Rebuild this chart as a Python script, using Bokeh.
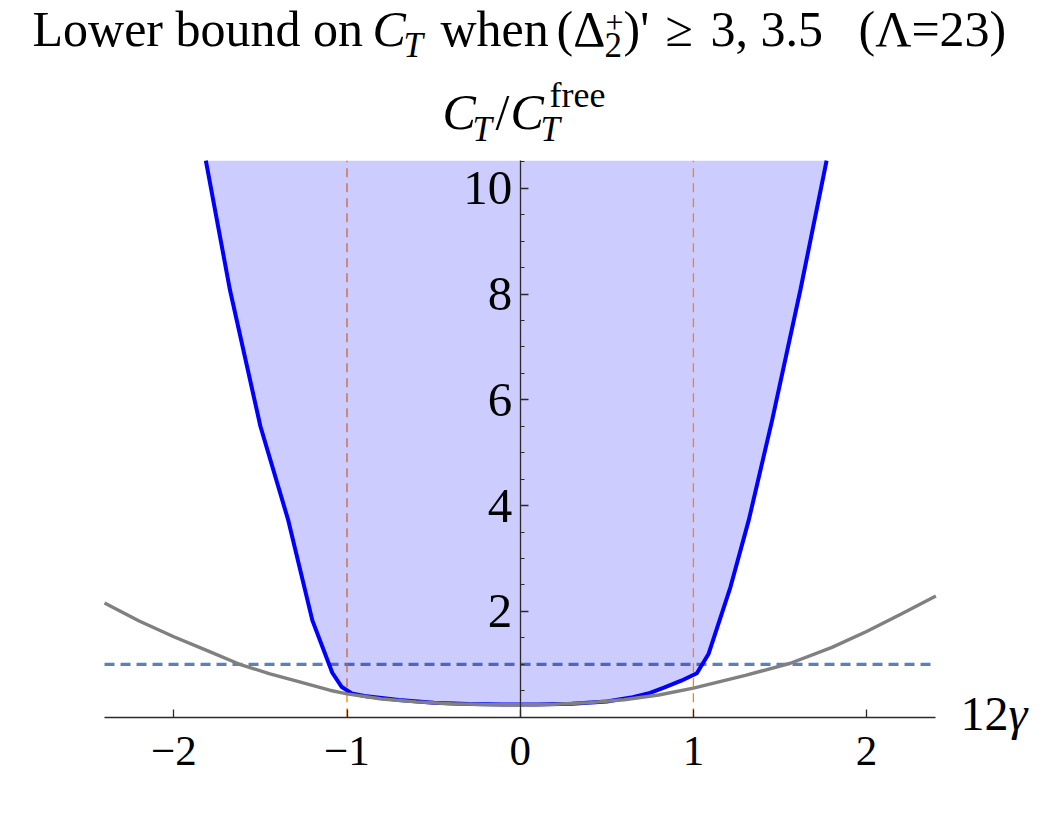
from bokeh.plotting import figure
from bokeh.models import Range1d, FixedTicker, LinearAxis
from bokeh.core.properties import value
from bokeh.embed import file_html
from bokeh.resources import INLINE

# ---------------- data ----------------
# grey reference curve
gray_x = [-2.4, -2.2, -2.0, -1.8, -1.62, -1.445, -1.3, -1.1, -1.0, -0.8, -0.6, -0.4, -0.2, 0.0,
          0.2, 0.4, 0.6, 0.8, 1.0, 1.1, 1.3, 1.56, 1.8, 2.0, 2.2, 2.4]
gray_y = [2.16, 1.82, 1.52, 1.25, 1.00, 0.82, 0.69, 0.51, 0.44, 0.345, 0.29, 0.255, 0.237, 0.235,
          0.245, 0.275, 0.33, 0.42, 0.55, 0.63, 0.79, 1.02, 1.32, 1.62, 1.95, 2.29]

# lower bound on C_T (blue boundary of the allowed region)
bound_x = [-1.815, -1.676, -1.50, -1.339, -1.20, -1.085, -1.03, -0.973, -0.9, -0.7, -0.5, -0.3, -0.1,
           0.1, 0.3, 0.5, 0.65, 0.75, 0.83, 0.93, 1.02, 1.088, 1.214, 1.32, 1.455, 1.618, 1.769]
bound_y = [10.52, 8.08, 5.5, 3.72, 1.83, 0.84, 0.57, 0.45, 0.40, 0.325, 0.275, 0.25, 0.24,
           0.242, 0.255, 0.295, 0.38, 0.46, 0.56, 0.69, 0.83, 1.2, 2.46, 3.73, 5.62, 8.08, 10.52]

free_level = 1.0            # C_T / C_T^free = 1
gamma_marks = [-1.0, 1.0]   # 12*gamma = -1, 1

x_ticks = [-2, -1, 0, 1, 2]
x_tick_labels = ["\u22122", "\u22121", "0", "1", "2"]
y_ticks = [2, 4, 6, 8, 10]
y_tick_labels = ["2", "4", "6", "8", "10"]
y_minor = [0.5, 1, 1.5, 2.5, 3, 3.5, 4.5, 5, 5.5, 6.5, 7, 7.5, 8.5, 9, 9.5, 10.5]

x_lo, x_hi = -2.4, 2.4
y_lo, y_hi = 0.0, 10.52

# ---------------- layout (pixel geometry of the frame) ----------------
W, H = 1042, 823
X0_PX, Y0_PX = 519.7, 716.7
UX, UY = 173.2, 52.9


def dx(px):
    return (px - X0_PX) / UX


def dy(py):
    return (Y0_PX - py) / UY


p = figure(width=W, height=H,
           x_range=Range1d(dx(0), dx(W)), y_range=Range1d(dy(H), dy(0)),
           output_backend="svg", toolbar_location=None,
           x_axis_type=None, y_axis_type=None, min_border=0)
p.outline_line_color = None
p.background_fill_color = "white"
p.border_fill_color = "white"

FONT = value("Liberation Serif")
AX_COL = "#2a2a2a"

# lines drawn beneath the translucent region
p.line(x=[x_lo, x_hi], y=[free_level, free_level], line_color="#5E81B5",
       line_width=3.3, line_dash="10 6")
p.line(x=[gamma_marks[0], gamma_marks[0]], y=[y_lo, y_hi], line_color="#ff8000",
       line_width=1.3, line_dash="9 6")

# allowed region
p.varea(x=bound_x, y1=bound_y, y2=[y_hi] * len(bound_x), fill_color="#0000ff", fill_alpha=0.2)
p.line(x=bound_x, y=bound_y, line_color="#0000ff", line_width=4)
p.line(x=gray_x, y=gray_y, line_color="#808080", line_width=3.4)
p.line(x=[gamma_marks[1], gamma_marks[1]], y=[y_lo, y_hi], line_color="#ff8000",
       line_width=1.3, line_dash="9 6")

# axes crossing at the origin
xaxis = LinearAxis(fixed_location=0, bounds=(x_lo, x_hi),
                   ticker=FixedTicker(ticks=x_ticks, minor_ticks=[]),
                   major_label_overrides={t: l for t, l in zip(x_ticks, x_tick_labels)},
                   major_label_text_font="Liberation Serif")
yaxis = LinearAxis(fixed_location=0, bounds=(y_lo, y_hi),
                   ticker=FixedTicker(ticks=y_ticks, minor_ticks=y_minor),
                   major_label_overrides={t: l for t, l in zip(y_ticks, y_tick_labels)},
                   major_label_text_font="Liberation Serif")
for ax, size in ((xaxis, "43px"), (yaxis, "49px")):
    ax.axis_line_color = AX_COL
    ax.axis_line_width = 1.3
    ax.major_tick_line_color = AX_COL
    ax.major_tick_line_width = 1.3
    ax.minor_tick_line_color = AX_COL
    ax.minor_tick_line_width = 1.2
    ax.major_tick_in = 8
    ax.major_tick_out = 0
    ax.minor_tick_in = 4
    ax.minor_tick_out = 0
    ax.major_label_text_font_size = size
    ax.major_label_text_color = "black"
xaxis.major_label_standoff = 20
yaxis.major_label_standoff = 8
p.add_layout(xaxis, "below")
p.add_layout(yaxis, "left")

BASE_SHIFT = 0.41  # empirical correction of the alphabetic baseline (in em)


def txt(px, py, s, size=50, italic=False):
    p.text(x=[dx(px)], y=[dy(py - BASE_SHIFT * size)], text=[s], text_font=FONT,
           text_font_size=f"{size}px", text_font_style="italic" if italic else "normal",
           text_color="black", text_align="left", text_baseline="alphabetic")


# title: Lower bound on C_T when (Δ_2^+)' ≥ 3, 3.5  (Λ=23)
TB = 49
txt(32, TB, "Lower bound on")
txt(372, TB, "C", italic=True)
txt(403, TB + 10, "T", size=35, italic=True)
txt(440, TB, "when")
txt(556, TB, "(\u0394")
txt(604, TB + 10, "2", size=35)
txt(605, TB - 14, "+", size=32)
txt(623, TB, ")'")
txt(665, TB, "\u2265")
txt(710, TB, "3,")
txt(760, TB, "3.5")
txt(858, TB, "(\u039b=23)")

# y-axis title: C_T / C_T^free
YB = 132
txt(442, YB, "C", italic=True)
txt(472, YB + 11, "T", size=35, italic=True)
txt(495, YB, "/")
txt(510, YB, "C", italic=True)
txt(540, YB + 11, "T", size=35, italic=True)
txt(549, YB - 23, "free", size=36)

# x-axis title: 12γ
txt(960, 733, "12", size=48)
txt(1008, 733, "\u03b3", size=48, italic=True)

open("out.html", "w").write(file_html(p, INLINE))
